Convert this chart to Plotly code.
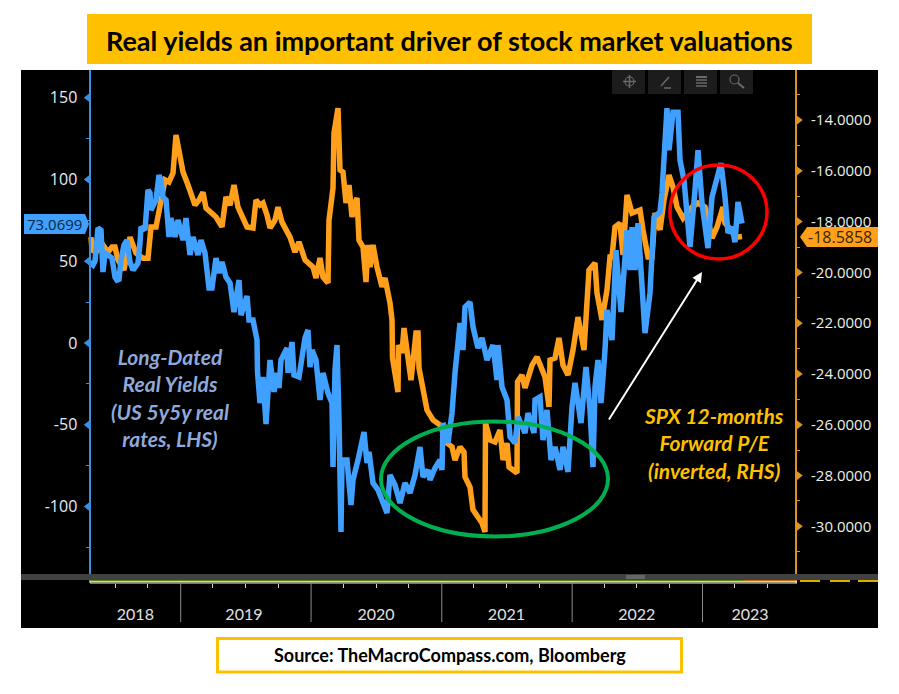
import pandas as pd
import plotly.graph_objs as go

start_date = pd.Timestamp('2018-04-22')

# weeks since start_date / values
blue_weeks = [0, 1.2, 2, 3.2, 4.4, 5.2, 6, 7.2, 8.8, 10, 10.8, 11.6, 12.4, 13.6, 14.8, 16, 17.2, 18.4, 19.2, 20,
              20.4, 22, 23.2, 24, 24.4, 26.4, 27.6, 28.4, 29.2, 30.4, 31.6, 32.4, 34, 35.2, 37.2, 38.4, 40, 41.2, 43.2, 44.4,
              46, 47.6, 48.8, 50.4, 51.6, 52.8, 54.4, 56, 57.6, 59.6, 60.4, 62.8, 63.6, 65.2, 66, 66.8, 67, 68, 69.2, 70.4,
              72, 73.6, 74.8, 75.6, 76.4, 78.8, 79.2, 80.8, 81.6, 83.6, 86, 87.2, 88, 88.8, 90.4, 92, 93.2, 95.2, 96.8, 97.2,
              98, 98.8, 99.6, 100.4, 100.8, 102.8, 104.4, 105.2, 107.2, 109.6, 110.8, 111.6, 113.2, 115.2, 116.8, 118.8, 120, 122, 124, 126,
              128, 130, 132, 133.2, 135.2, 136, 138, 140, 140.8, 141.2, 143.2, 144.8, 146, 148, 149.2, 150, 152, 153.2, 155.2, 156.8,
              158.8, 161.2, 162.8, 163.2, 164.8, 166.8, 168, 170, 171.2, 174, 175.2, 177.6, 178, 180, 181.2, 182.8, 184.4, 186, 188, 189.2,
              191.2, 192.8, 194, 196.4, 198.4, 200, 201.2, 202, 203.2, 204.4, 206, 206.8, 208.8, 210.4, 212.4, 213.2, 214.8, 216, 216.8, 218,
              219.2, 222, 224, 225.6, 228, 228.8, 230.8, 231.6, 233.2, 235.2, 236, 237.6, 238.8, 240, 242, 243.2, 244.8, 246, 247.2, 248.8,
              250.8, 252.4, 254, 255.2, 256.8, 258, 259.2, 260.8]
blue_values = [49.5, 47.7, 50, 70.3, 69, 43.4, 55, 53.8, 52, 40.3, 38.5, 39, 50.7, 59.9, 62.9, 49.5, 44.6, 47, 48.9, 61.1,
               70.9, 69, 93.5, 91.7, 81.3, 87.4, 102.6, 99.6, 89.2, 87.4, 64.8, 76.4, 64.8, 75.2, 62.9, 76.4, 53.8, 64.8, 53.8, 62.9,
               55, 33.6, 33.6, 51.9, 42.8, 49.5, 40.3, 36.7, 18.9, 38.5, 17.1, 28.7, 14.1, 14.1, 4.9, 1.8, -17.7, -36.7, -20.8, -49.5,
               -10.4, -29.9, -18.3, -27.5, -10.4, -3.1, -18.3, 0.6, -19.6, -20.8, 3.1, 7.9, -14.7, -4.3, -10.4, -34.8, -18.3, -30.6, -36.7, -75.8,
               -16.5, -1.2, -47, -115.5, -71.5, -71.5, -99, -83.7, -71.5, -54.4, -73.3, -66.6, -85.5, -89.8, -95.9, -103.9, -80.7, -86.8, -97.8, -85.5,
               -91.7, -80.7, -63.5, -81.9, -77.6, -83.7, -76.4, -71.5, -77.6, -48.9, -61.1, -42.8, -18.3, 12.2, -4.3, 22, 25, 9.8, -3.1, 3.1,
               -10.4, -1.2, -22.6, -1.2, -26.9, -34.8, -57.4, -61.1, -45.2, -55, -42.8, -55, -34.8, -33, -59.3, -40.9, -71.5, -63.5, -77.6, -63.5,
               -78.8, -39.1, -24.4, -48.9, -14.7, -40.9, -75.8, -26.9, -10.4, -36.7, -4.3, 20.2, 1.8, 56.8, 18.9, 37.3, 69, 44.6, 70.9, 44.6,
               73.3, 6.1, 30.6, 77, 80, 91.7, 143.6, 117.9, 141.1, 141.1, 111.8, 99.6, 78.2, 58.7, 93.5, 117.9, 85.5, 69, 58, 89.2,
               101.4, 110, 89.2, 67.2, 70.9, 61.7, 86.2, 73.1]

orange_weeks = [0.4, 0.8, 2.4, 5.2, 7.2, 8.8, 10, 11.2, 13.6, 14.8, 16, 18.4, 21.2, 23.2, 24.4, 26.4, 28.4, 30, 31.6, 33.2,
                34.4, 35.6, 37.2, 39.2, 42, 43.6, 45.2, 46.4, 48.4, 50.4, 52.8, 54.4, 56, 57.6, 59.2, 61.2, 62.8, 65.2, 66.4, 68,
                69.2, 70.8, 72, 74, 75.2, 76.8, 80, 82, 83.6, 86, 89.2, 90.4, 92, 93.2, 95.2, 95.6, 97.2, 97.6, 99.2, 100,
                101.2, 102.4, 103.6, 104.8, 105.6, 106.8, 107.6, 109.2, 110.4, 111.2, 112, 113.2, 114.8, 116.8, 118, 120, 120.8, 121, 123.2, 123.4,
                124.8, 125.6, 127.2, 128.4, 130.4, 131.2, 131.6, 133.2, 134.8, 137.2, 140, 142.8, 144.8, 146, 148, 149.6, 150, 152, 153.2, 156.8,
                158, 158.2, 160, 162, 164, 165.2, 166.8, 167.6, 170.8, 171, 172.8, 174, 176.8, 178.8, 180.8, 182, 183.6, 184, 186, 187.6,
                189.2, 191.2, 193.2, 195.2, 197.6, 199.6, 202, 202.8, 204.8, 206.8, 208, 208.8, 210, 212, 213.2, 214.8, 216.8, 220, 221.2, 223.2,
                224.8, 226, 228, 229.6, 231.6, 233.2, 234.8, 237.2, 240.8, 243.2, 246, 248.8, 250.8, 253.2, 254, 258.8, 260.8]
orange_values = [-18.61, -19.12, -19.2, -18.92, -19.2, -19.0, -19.0, -19.51, -19.91, -19.12, -18.61, -19.24, -19.44, -19.44, -18.21, -18.21, -17.27, -16.36, -16.44, -16.09,
                 -14.59, -15.3, -16.05, -16.56, -17.35, -17.15, -16.84, -17.47, -17.66, -17.82, -18.21, -17.03, -17.35, -16.56, -17.43, -17.94, -18.21, -18.25, -17.15, -17.35,
                 -17.27, -17.74, -18.25, -17.94, -17.43, -18.02, -18.61, -19.2, -18.8, -19.51, -19.79, -20.22, -19.43, -20.18, -20.42, -17.94, -16.68, -14.51, -13.53, -15.97,
                 -16.05, -17.27, -16.56, -17.82, -17.35, -17.07, -18.73, -19.0, -20.38, -18.92, -19.79, -18.92, -19.79, -20.57, -20.22, -21.2, -21.87, -23.37, -24.71, -22.86,
                 -23.17, -22.19, -23.17, -24.24, -22.39, -22.39, -23.76, -24.63, -25.42, -25.81, -26.01, -26.72, -26.87, -27.39, -26.87, -27.07, -28.05, -28.45, -29.35, -29.87,
                 -30.22, -25.93, -26.6, -26.68, -26.21, -27.39, -26.72, -27.66, -27.9, -24.31, -24.04, -24.55, -23.65, -23.33, -23.84, -24.12, -25.3, -23.45, -23.37, -22.58,
                 -23.65, -24.04, -23.06, -21.76, -23.06, -19.91, -19.63, -20.81, -21.87, -20.69, -19.39, -19.39, -18.21, -18.06, -19.31, -16.95, -17.66, -17.54, -18.33, -19.39,
                 -19.39, -17.66, -18.33, -17.15, -16.17, -16.64, -17.43, -17.86, -17.43, -17.27, -17.43, -18.65, -18.21, -17.43, -18.06, -18.61, -18.59]

left_ticks = [150, 100, 50, 0, -50, -100]
left_labels = ['150', '100', '50', '0', '-50', '-100']
left_minor = [125, 75, 25, -25, -75, -125]
right_ticks = [-14, -16, -18, -20, -22, -24, -26, -28, -30]
right_labels = ['-14.0000', '-16.0000', '-18.0000', '-20.0000', '-22.0000', '-24.0000', '-26.0000', '-28.0000', '-30.0000']
right_minor = [-13, -15, -17, -19, -21, -23, -25, -27, -29, -31]

year_labels = ['2018', '2019', '2020', '2021', '2022', '2023']
year_label_dates = ['2018-08-27', '2019-06-27', '2020-07-01', '2021-07-01', '2022-07-01', '2023-05-14']
year_starts = ['2019-01-01', '2020-01-01', '2021-01-01', '2022-01-01', '2023-01-01']
quarter_ticks = ['2018-07-01', '2018-10-01', '2019-04-01', '2019-07-01', '2019-10-01', '2020-04-01', '2020-07-01', '2020-10-01',
                 '2021-04-01', '2021-07-01', '2021-10-01', '2022-04-01', '2022-07-01', '2022-10-01', '2023-04-01', '2023-07-01']

BLUE = '#3FA0FF'
ORANGE = '#FF9F1C'
AXIS_BLUE = '#3A8FE0'
AXIS_ORANGE = '#E0921E'
YELLOW = '#FFC000'


def wk(weeks):
    return start_date + pd.to_timedelta([w * 7 for w in weeks], unit='D')


def fx(x):
    return x / 899


def fy(y):
    return 1 - y / 694


def rect(x0, y0, x1, y1, fill, line=None, width=0):
    return dict(type='rect', xref='paper', yref='paper', x0=fx(x0), x1=fx(x1), y0=fy(y0), y1=fy(y1),
                fillcolor=fill, line=dict(color=line or fill, width=width), layer='above')


def seg(x0, y0, x1, y1, color='#6a6a6a', width=1.5):
    return dict(type='line', xref='paper', yref='paper', x0=fx(x0), x1=fx(x1), y0=fy(y0), y1=fy(y1),
                line=dict(color=color, width=width), layer='above')


def oval(x0, y0, x1, y1, color, width):
    return dict(type='circle', xref='paper', yref='paper', x0=fx(x0), x1=fx(x1), y0=fy(y0), y1=fy(y1),
                line=dict(color=color, width=width), layer='above')


def poly(points, fill):
    d = 'M ' + ' L '.join(f'{fx(x):.5f},{fy(y):.5f}' for x, y in points) + ' Z'
    return dict(type='path', xref='paper', yref='paper', path=d, fillcolor=fill, line=dict(width=0), layer='above')


def label(text, x, y, size, color, family='Lato'):
    return dict(text=text, x=fx(x), y=fy(y), xref='paper', yref='paper', showarrow=False,
                font=dict(size=size, color=color, family=family), xanchor='center', yanchor='middle', align='center')


data = [
    go.Scatter(x=wk(orange_weeks), y=orange_values, mode='lines', yaxis='y',
               line=dict(color=ORANGE, width=5.5), hoverinfo='skip'),
    go.Scatter(x=wk(blue_weeks), y=blue_values, mode='lines', yaxis='y2',
               line=dict(color=BLUE, width=5.5), hoverinfo='skip'),
    # tick flags next to the axes
    go.Scatter(x=wk([283.5] * len(right_ticks)), y=right_ticks, mode='markers', yaxis='y',
               marker=dict(symbol='triangle-right', size=8, color=AXIS_ORANGE), hoverinfo='skip'),
    go.Scatter(x=wk([-0.9] * len(left_ticks)), y=left_ticks, mode='markers', yaxis='y2',
               marker=dict(symbol='triangle-left', size=8, color=AXIS_BLUE), hoverinfo='skip'),
]

shapes = [
    rect(21, 70, 878, 628, '#000000') | dict(layer='below'),
    rect(87, 14, 812, 64, YELLOW),
    rect(217.5, 638.5, 681.5, 672, '#FFFFFF', YELLOW, 3),
    # toolbar
    rect(612, 70, 645, 94, '#1c1c1c'),
    rect(648, 70, 681, 94, '#1c1c1c'),
    rect(684, 70, 717, 94, '#1c1c1c'),
    rect(720, 70, 753, 94, '#1c1c1c'),
    oval(625, 77, 634, 86, '#6a6a6a', 1.2),
    seg(623, 81.5, 636, 81.5),
    seg(629.5, 75, 629.5, 88),
    seg(661, 86, 669, 77),
    seg(664, 88, 671, 88),
    seg(696, 77, 707, 77, width=2),
    seg(696, 80, 707, 80, width=1.5),
    seg(696, 83, 707, 83, width=1.5),
    seg(696, 86, 707, 86, width=1.5),
    oval(730, 75, 739, 84, '#6a6a6a', 1.2),
    seg(738, 83, 744, 88, width=2),
    # scroll bar and range strip
    rect(21, 574, 878, 580, '#414141'),
    rect(626, 575.5, 645, 576.5, '#8a8a8a'),
    rect(626, 577.5, 645, 578.5, '#8a8a8a'),
    rect(90, 580, 743, 580.8, '#2F8F2F'),
    rect(743, 580, 797, 580.8, '#E0601E'),
    rect(90, 580.8, 797, 582.2, '#FFE000'),
    rect(90, 582.5, 797, 583.5, '#F0F0F0'),
    rect(800, 580, 820, 582, '#D9B000'),
    rect(830, 580, 850, 582, '#D9B000'),
    rect(858, 580, 878, 582, '#D9B000'),
    # callouts
    poly([(24, 214), (85, 214), (89, 224), (85, 234), (24, 234)], BLUE),
    poly([(800, 237), (807, 227), (878, 227), (878, 247), (807, 247)], ORANGE),
    oval(381, 421.5, 608, 536.5, '#00B050', 4),
    oval(670, 165, 767, 259, '#FF0000', 3.5),
]
for d in year_starts:
    shapes.append(dict(type='line', xref='x', yref='paper', x0=d, x1=d, y0=fy(583), y1=fy(622),
                       line=dict(color='#8c8c8c', width=1)))

annotations = [
    label('<b>Real yields an important driver of stock market valuations</b>', 449.5, 40, 27, '#000000'),
    label('<b>Source: TheMacroCompass.com, Bloomberg</b>', 449.5, 655, 18, '#000000'),
    label('<b><i>Long-Dated<br>Real Yields<br>(US 5y5y real<br>rates, LHS)</i></b>', 170, 397, 21, '#8EA9DB'),
    label('<b><i>SPX 12-months<br>Forward P/E<br>(inverted, RHS)</i></b>', 714, 443, 21, YELLOW),
    label('73.0699', 54, 224, 15, '#10263c', 'Open Sans'),
    label('-18.5858', 840, 237, 16, '#3a2400', 'Open Sans'),
    dict(x=fx(702), y=fy(272), xref='paper', yref='paper', ax=-94, ay=149, text='', showarrow=True,
         arrowhead=2, arrowsize=1, arrowwidth=2, arrowcolor='#FFFFFF'),
]

layout = go.Layout(
    width=899, height=694, margin=dict(l=0, r=0, t=0, b=0), showlegend=False,
    paper_bgcolor='#FFFFFF', plot_bgcolor='rgba(0,0,0,0)',
    # x domain runs a little past both axes so the tick flags stay inside it
    xaxis=dict(type='date', domain=[fx(82), fx(806)],
               range=[str(wk([-3.2])[0]), str(wk([286.4])[0])],
               tickmode='array', tickvals=year_label_dates, ticktext=year_labels,
               ticks='', ticklabelstandoff=20, showgrid=False, zeroline=False, showline=False,
               tickfont=dict(size=16, color='#E2E2E2', family='Lato'),
               minor=dict(tickmode='array', tickvals=quarter_ticks, ticks='outside', ticklen=4,
                          tickcolor='#CFCFCF', tickwidth=1, showgrid=False)),
    # orange on the first axis so that blue is painted over it
    yaxis=dict(domain=[fy(583), fy(70)], side='right', anchor='free', position=fx(796), range=[-32.23, -12.03],
               tickmode='array', tickvals=right_ticks, ticktext=right_labels, ticks='',
               ticklabelstandoff=11, showgrid=False, zeroline=False,
               showline=True, linecolor=AXIS_ORANGE, linewidth=2,
               tickfont=dict(size=15, color='#EDEFE8', family='Open Sans'),
               minor=dict(tickmode='array', tickvals=right_minor, ticks='outside', ticklen=3,
                          tickcolor=AXIS_ORANGE, showgrid=False)),
    yaxis2=dict(domain=[fy(583), fy(70)], overlaying='y', side='left', anchor='free', position=fx(89.5), range=[-146.7, 166.9],
                tickmode='array', tickvals=left_ticks, ticktext=left_labels, ticks='',
                ticklabelstandoff=8, showgrid=False, zeroline=False,
                showline=True, linecolor=AXIS_BLUE, linewidth=2,
                tickfont=dict(size=16, color='#E2ECF6', family='Open Sans'),
                minor=dict(tickmode='array', tickvals=left_minor, ticks='outside', ticklen=3,
                           tickcolor=AXIS_BLUE, showgrid=False)),
    shapes=shapes, annotations=annotations,
)

fig = go.Figure(data=data, layout=layout)
fig.write_html('out.html', config={'displayModeBar': False}, post_script="document.body.style.margin='0';")
